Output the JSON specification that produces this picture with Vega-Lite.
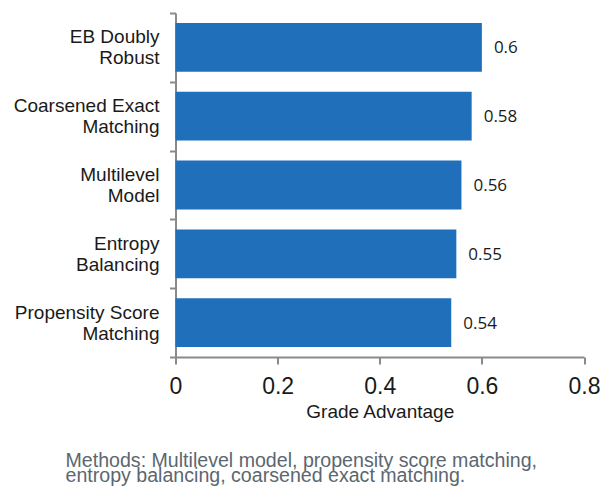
{
  "$schema": "https://vega.github.io/schema/vega-lite/v6.json",
  "autosize": {"type": "none"},
  "width": 408.5,
  "height": 344,
  "padding": {"left": 175.5, "top": 13, "right": 19, "bottom": 130},
  "background": "white",
  "title": {
    "text": ["Methods: Multilevel model, propensity score matching,", "entropy balancing, coarsened exact matching."],
    "orient": "bottom",
    "anchor": "start",
    "frame": "group",
    "align": "left",
    "dx": -110,
    "offset": 31,
    "font": "Liberation Sans",
    "fontSize": 19.6,
    "fontWeight": "normal",
    "lineHeight": 15,
    "color": "#5b6770"
  },
  "data": {
    "values": [
      {"method": "EB Doubly Robust", "advantage": 0.6},
      {"method": "Coarsened Exact Matching", "advantage": 0.58},
      {"method": "Multilevel Model", "advantage": 0.56},
      {"method": "Entropy Balancing", "advantage": 0.55},
      {"method": "Propensity Score Matching", "advantage": 0.54}
    ]
  },
  "encoding": {
    "y": {
      "field": "method",
      "type": "nominal",
      "sort": null,
      "scale": {"paddingInner": 0, "paddingOuter": 0},
      "axis": {
        "title": null,
        "tickBand": "extent",
        "tickSize": 6,
        "labelPadding": 10.5,
        "labelOffset": -10.5,
        "labelFont": "Liberation Sans",
        "labelFontSize": 19,
        "labelColor": "#1a1a1a",
        "labelLineHeight": 21,
        "labelExpr": "[slice(datum.label, 0, lastindexof(datum.label, ' ')), slice(datum.label, lastindexof(datum.label, ' ') + 1)]"
      }
    },
    "x": {
      "field": "advantage",
      "type": "quantitative",
      "scale": {"domain": [0, 0.8], "nice": false},
      "axis": {
        "title": "Grade Advantage",
        "values": [0, 0.2, 0.4, 0.6, 0.8],
        "format": "~g",
        "grid": false,
        "tickSize": 7,
        "labelPadding": 11,
        "labelFont": "Liberation Sans",
        "labelFontSize": 23,
        "labelColor": "#1a1a1a",
        "labelFlush": false,
        "titleFont": "Liberation Sans",
        "titleFontSize": 19,
        "titleFontWeight": "normal",
        "titleColor": "#1a1a1a",
        "titlePadding": 4
      }
    }
  },
  "layer": [
    {"mark": {"type": "bar", "color": "#1f6fba", "height": {"band": 0.71}}},
    {
      "mark": {"type": "text", "align": "left", "baseline": "middle", "dx": 12, "dy": 1, "font": "Open Sans", "fontSize": 17, "color": "#1a1a1a"},
      "encoding": {"text": {"field": "advantage", "type": "quantitative"}}
    }
  ],
  "config": {
    "view": {"stroke": null},
    "axis": {"domainColor": "#8a8a8a", "domainWidth": 2, "tickColor": "#8a8a8a", "tickWidth": 2}
  }
}
